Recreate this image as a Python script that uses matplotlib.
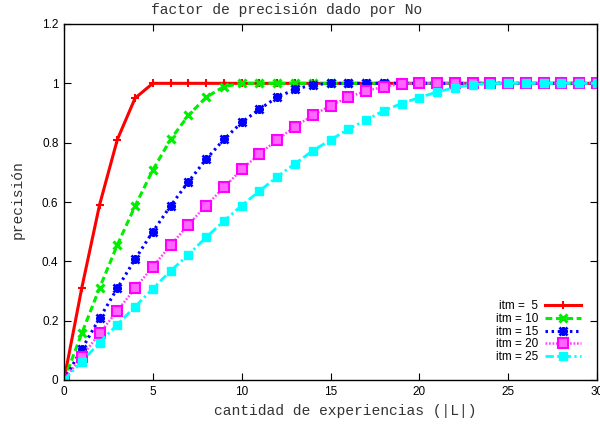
import numpy as np
import matplotlib
matplotlib.use("Agg")
from matplotlib import pyplot as plt

# experiencias |L| = 0..30
x = np.arange(0, 31)

# precision, padded with 1.0 once each curve saturates
itm5 = [0, 0.31, 0.59, 0.81, 0.95] + [1.0] * 26
itm10 = [0, 0.157, 0.31, 0.455, 0.586, 0.708, 0.811, 0.892, 0.953, 0.989] + [1.0] * 21
itm15 = [0, 0.104, 0.208, 0.309, 0.407, 0.5, 0.587, 0.668, 0.744, 0.811,
         0.868, 0.913, 0.953, 0.98, 0.995] + [1.0] * 16
itm20 = [0, 0.079, 0.157, 0.233, 0.309, 0.382, 0.454, 0.524, 0.588, 0.649,
         0.71, 0.762, 0.81, 0.854, 0.892, 0.925, 0.953, 0.974, 0.989, 0.998] + [1.0] * 11
itm25 = [0, 0.062, 0.126, 0.187, 0.247, 0.308, 0.368, 0.422, 0.481, 0.536,
         0.588, 0.637, 0.685, 0.729, 0.773, 0.809, 0.846, 0.876, 0.908, 0.932,
         0.952, 0.971, 0.985, 0.996, 0.999] + [1.0] * 6

labels = ["itm =  5", "itm = 10", "itm = 15", "itm = 20", "itm = 25"]
xticks = [0, 5, 10, 15, 20, 25, 30]
yticks = [0, 0.2, 0.4, 0.6, 0.8, 1, 1.2]
ytick_labels = ["0", "0.2", "0.4", "0.6", "0.8", "1", "1.2"]

mono = "Liberation Mono"
sans = "Liberation Sans"

fig = plt.figure(figsize=(6, 4.25), dpi=100)
ax = fig.add_axes([64 / 600, 1 - 380 / 425, 533 / 600, 356 / 425])

l5, = ax.plot(x, itm5, color="#ff0000", lw=2.2, ls="-", marker="+", ms=6, mew=1.5)
l10, = ax.plot(x, itm10, color="#00ee00", lw=2.2, ls=(0, (2.2, 1.2)), marker="x",
               ms=5.5, mew=2.2)
# gnuplot style asterisk: plus + cross on top of each other
l15, = ax.plot(x, itm15, color="#0000ff", lw=2.2, ls=(0, (0.8, 1.2)), marker=(4, 2, 0),
               ms=6, mew=2.0)
l15x, = ax.plot(x, itm15, color="#0000ff", lw=0, marker="x", ms=5.5, mew=2.0)
l20, = ax.plot(x, itm20, color="#ff44ff", lw=1.8, ls=(0, (0.7, 0.7)), marker="s",
               ms=6.5, mfc="#ff66ff", mec="#ff00ff", mew=1.5)
l25, = ax.plot(x, itm25, color="#00ffff", lw=2.0, ls=(0, (3, 1.2, 0.8, 1.2)),
               marker="s", ms=6, mfc="#00ffff", mec="#00ffff")

ax.set_xlim(0, 30)
ax.set_ylim(0, 1.2)
ax.set_xticks(xticks)
ax.set_yticks(yticks)
ax.set_yticklabels(ytick_labels)
ax.tick_params(direction="in", length=5, width=0.8, top=True, right=True,
               labelsize=8.5, pad=4)
for lab in ax.get_xticklabels() + ax.get_yticklabels():
    lab.set_family(sans)
for sp in ax.spines.values():
    sp.set_linewidth(1.0)

fig.text(287 / 600, 1 - 10 / 425, "factor de precisión dado por No", family=mono,
         fontsize=10.5, color="#333333", ha="center", va="center")
fig.text(345 / 600, 1 - 411 / 425, "cantidad de experiencias (|L|)", family=mono,
         fontsize=10.5, color="#333333", ha="center", va="center")
fig.text(18 / 600, 1 - 200 / 425, "precisión", family=mono, fontsize=10.5,
         color="#333333", ha="center", va="center", rotation=90)

ax.legend([l5, l10, (l15, l15x), l20, l25], labels,
          loc="lower right", bbox_to_anchor=(0.985, 0.025), frameon=False,
          markerfirst=False, handlelength=3.0, handletextpad=0.6,
          labelspacing=0.05, borderpad=0.2, prop={"family": sans, "size": 8.5})

fig.savefig("out.png", dpi=100)
